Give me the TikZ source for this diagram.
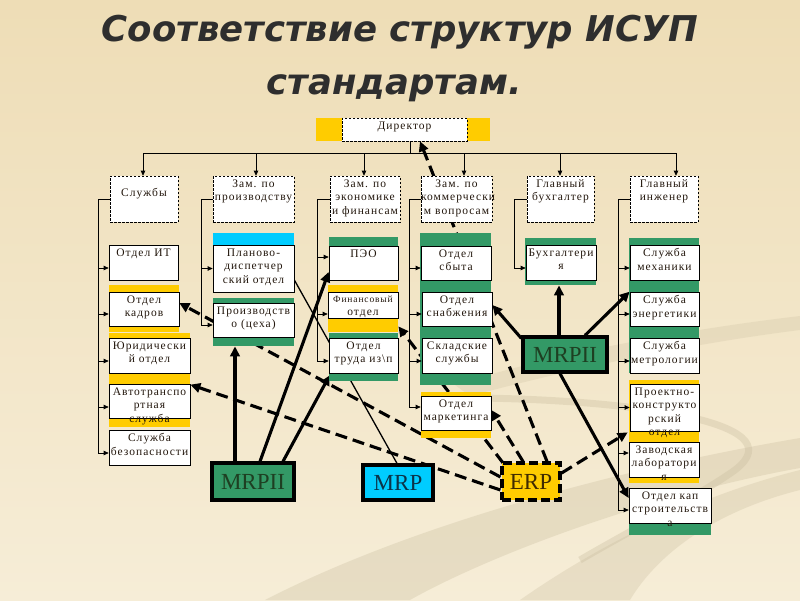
\documentclass[tikz,border=0pt]{standalone}
\usepackage{fontspec}
\setmainfont{Liberation Serif}
\newfontfamily\bxf[LetterSpace=9]{Liberation Serif}
\newfontfamily\ttlf{DejaVu Sans Bold Oblique}
\newfontfamily\sysf{Liberation Serif}
\usetikzlibrary{arrows.meta,calc}
\pgfdeclarelayer{bg}\pgfdeclarelayer{edges}
\pgfsetlayers{bg,edges,main}
\definecolor{bgA}{HTML}{EEDDB6}
\definecolor{bgB}{HTML}{F6EDD7}
\definecolor{swirl}{HTML}{C9BD9E}
\definecolor{pgreen}{HTML}{339966}
\definecolor{pyellow}{HTML}{FFCC00}
\definecolor{pcyan}{HTML}{00CCFF}
\definecolor{txt}{HTML}{22160C}
\definecolor{ttl}{HTML}{2E2E2E}
\definecolor{mrpTxt}{HTML}{1E3F22}
\definecolor{mrTxt}{HTML}{0B3349}
\definecolor{erpTxt}{HTML}{3F2A00}
\newcommand\boxfont{\bxf\fontsize{11.5}{13.5}\selectfont}
\newcommand\ubox[7][unit]{%
  \pgfmathsetmacro\bw{#5-#3}%
  \pgfmathsetmacro\bh{#6-#4}%
  \node[#1,minimum width=\bw pt,minimum height=\bh pt] (#2) at ({(#3+#5)/2},{(#4+#6)/2})
    {\parbox[c][\bh pt][t]{\bw pt}{\boxfont\centering\vspace*{3.5pt}#7}};}
\newcommand\band[5]{\fill[#1] (#2,#3) rectangle (#4,#5);}
\newcommand\feed[3]{\path ([yshift=#3pt]#2.west) coordinate (tmpf); \draw[tick] (tmpf -| #1) -- (tmpf);}
\newcommand\drop[2]{\path ([xshift=#2pt]#1.north) coordinate (tmpd); \draw[tick] (tmpd |- busL) -- (tmpd);}
\begin{document}
\begin{tikzpicture}[x=1pt,y=-1pt,
  hdr/.style={draw=black, fill=white, line width=0.6pt, dash pattern=on 2.5pt off 1.5pt, inner sep=0pt, text=txt},
  unit/.style={draw=black, fill=white, line width=0.7pt, inner sep=0pt, text=txt},
  sys/.style={draw=black, line width=3.2pt, inner sep=0pt, font=\sysf\fontsize{23}{26}\selectfont},
  conn/.style={line width=3.1pt, -{Triangle[length=10pt,width=9.5pt]}},
  dconn/.style={conn, dash pattern=on 12pt off 6pt},
  feedl/.style={line width=0.7pt},
  tick/.style={line width=0.7pt, -{Triangle[length=5pt,width=4.5pt]}},
  ttlstyle/.style={anchor=base, text=ttl, font=\ttlf\fontsize{35.5}{40}\selectfont}]
\useasboundingbox (0,0) rectangle (800,600);
\begin{pgfonlayer}{bg}
\shade[top color=bgA, bottom color=bgB] (0,0) rectangle (800,600);
\fill[swirl, opacity=0.32] (265,600) .. controls (420,520) and (640,465) .. (800,438) -- (800,468) .. controls (650,495) and (490,555) .. (410,600) -- cycle;
\fill[swirl, opacity=0.30] (520,600) .. controls (620,530) and (720,490) .. (800,470) -- (800,490) .. controls (720,510) and (660,550) .. (630,600) -- cycle;
\fill[swirl, opacity=0.25] (455,385) .. controls (550,355) and (680,330) .. (800,316) -- (800,330) .. controls (680,345) and (560,372) .. (470,396) -- cycle;
\draw[swirl, opacity=0.35, line width=7pt] (480,398) .. controls (620,400) and (800,420) .. (735,470) .. controls (700,495) and (640,525) .. (580,560);
\end{pgfonlayer}

\node[ttlstyle] (title1) at (400,41) {Соответствие структур ИСУП};
\node[ttlstyle] (title2) at (394,94) {стандартам.};

% bands
\band{pyellow}{316}{118}{342}{141}
\band{pyellow}{467}{118}{490}{141}
\band{pyellow}{109}{285}{179}{332}
\band{pyellow}{109}{333}{190}{427}
\band{pcyan}{213}{233}{294}{245}
\band{pgreen}{213}{298}{294}{346}
\band{pgreen}{329}{237}{398}{246}
\band{pyellow}{328}{285}{398}{332}
\band{pgreen}{329}{333}{398}{381}
\band{pgreen}{420}{233}{491}{385}
\band{pyellow}{421}{392}{491}{438}
\band{pgreen}{525}{238}{596}{285}
\band{pgreen}{629}{238}{699}{373}
\band{pyellow}{629}{380}{699}{483}
\band{pgreen}{629}{515}{711}{535}

% header row
\ubox[hdr]{dir}{342}{118}{467}{141}{Директор}
\ubox[hdr]{h1}{110}{176}{178}{222}{\vspace*{9pt}Службы}
\ubox[hdr]{h2}{213}{176}{294}{222}{Зам. по\\производству}
\ubox[hdr]{h3}{330}{176}{400}{222}{Зам. по\\экономике\\и финансам}
\ubox[hdr]{h4}{421}{176}{492}{222}{Зам. по\\коммерчески\\м вопросам}
\ubox[hdr]{h5}{527}{176}{594}{222}{Главный\\бухгалтер}
\ubox[hdr]{h6}{630}{176}{698}{222}{Главный\\инженер}

% units
\ubox{it}{109}{245}{178}{280}{Отдел ИТ}
\ubox{kadr}{109}{292}{179}{326}{Отдел\\кадров}
\ubox{yur}{109}{338}{190}{373}{Юридически\\й отдел}
\ubox{avto}{109}{384}{190}{418}{Автотранспо\\ртная\\служба}
\ubox{bez}{109}{430}{190}{465}{Служба\\безопасности}
\ubox{plan}{213}{245}{294}{292}{Планово-\\диспетчер\\ский отдел}
\ubox{proizv}{213}{303}{294}{337}{Производств\\о (цеха)}
\ubox{peo}{329}{246}{398}{280}{ПЭО}
\ubox{fin}{328}{292}{398}{318}{{\fontsize{9.5}{12}\selectfont Финансовый}\\отдел}
\ubox{trud}{329}{338}{398}{373}{Отдел\\труда из\textbackslash п}
\ubox{sbyt}{421}{246}{491}{280}{Отдел\\сбыта}
\ubox{snab}{422}{292}{492}{326}{Отдел\\снабжения}
\ubox{sklad}{422}{338}{492}{373}{Складские\\службы}
\ubox{mark}{421}{396}{491}{430}{Отдел\\маркетинга}
\ubox{buh}{526}{245}{596}{280}{Бухгалтери\\я}
\ubox{meh}{630}{245}{699}{280}{Служба\\механики}
\ubox{energ}{630}{292}{699}{326}{Служба\\энергетики}
\ubox{metr}{630}{338}{699}{373}{Служба\\метрологии}
\ubox{proekt}{630}{384}{699}{431}{Проектно-\\конструкто\\рский\\отдел}
\ubox{lab}{629}{442}{699}{477}{Заводская\\лаборатори\\я}
\ubox{kap}{629}{488}{711}{523}{Отдел кап\\строительств\\а}

% systems
\node[sys, fill=pgreen, text=mrpTxt, minimum width=82pt, minimum height=37pt] (mrpL) at (253,481.5) {MRPII};
\node[sys, fill=pcyan, text=mrTxt, minimum width=70pt, minimum height=35pt] (mrp) at (398,482.5) {MRP};
\node[sys, fill=pyellow, text=erpTxt, dash pattern=on 9pt off 4pt, minimum width=58pt, minimum height=37pt] (erp) at (531,481.5) {ERP};
\node[sys, fill=pgreen, text=mrpTxt, minimum width=84pt, minimum height=35pt] (mrpR) at (565,354.5) {MRPII};

% hierarchy lines
\coordinate (busL) at (143,153);
\coordinate (busR) at (676,153);
\draw[feedl] ([xshift=5.5pt]dir.south) -- ([xshift=5.5pt]dir.south |- busL);
\draw[feedl] (busL) -- (busR);
\drop{h1}{-1}
\drop{h2}{2.5}
\drop{h3}{-1}
\drop{h4}{7.5}
\drop{h5}{-0.5}
\drop{h6}{12}

\coordinate (v1) at (98,453);
\coordinate (v2) at (201,325);
\coordinate (v3) at (317,361);
\coordinate (v4) at (409,407);
\coordinate (v5) at (514,268);
\coordinate (v6) at (618,510);
\draw[feedl] (h1.west) -| (v1);
\draw[feedl] (h2.west) -| (v2);
\draw[feedl] (h3.west) -| (v3);
\draw[feedl] (h4.west) -| (v4);
\draw[feedl] (h5.west) -| (v5);
\draw[feedl] (h6.west) -| (v6);
\feed{v1}{it}{-5.5}
\feed{v1}{kadr}{-5}
\feed{v1}{yur}{-5.5}
\feed{v1}{avto}{-6}
\feed{v1}{bez}{-5.5}
\feed{v2}{plan}{0}
\feed{v2}{proizv}{-5}
\feed{v3}{peo}{6}
\feed{v3}{fin}{-9}
\feed{v3}{trud}{-5.5}
\feed{v4}{sbyt}{-5}
\feed{v4}{snab}{-5}
\feed{v4}{sklad}{-5.5}
\feed{v4}{mark}{6}
\feed{v5}{buh}{-5.5}
\feed{v6}{meh}{-5.5}
\feed{v6}{energ}{-5}
\feed{v6}{metr}{-5.5}
\feed{v6}{proekt}{0}
\feed{v6}{lab}{6.5}
\feed{v6}{kap}{-4.5}

% system connectors
\begin{pgfonlayer}{edges}
\draw[conn] ([xshift=-18pt]mrpL.north) -- ([xshift=-18.5pt,yshift=-9pt]proizv.south);
\draw[conn] ([xshift=7pt]mrpL.north) -- ([yshift=-9pt]peo.west);
\draw[conn] ([xshift=30pt]mrpL.north) -- ([xshift=1pt,yshift=-2pt]trud.south west);
\draw[line width=1.3pt] ([xshift=-1pt]mrp.north) -- ([yshift=-11.5pt]plan.east);
\draw[dconn] ([xshift=16pt]erp.north) -- ([xshift=15.5pt]dir.south);
\draw[dconn] ([xshift=-8pt]erp.north) -- ([yshift=3pt]mark.east);
\draw[dconn] ([xshift=3pt,yshift=-2pt]erp.north west) -- ([yshift=-8pt]fin.south east);
\draw[dconn] ([yshift=4.5pt]erp.west) -- ([yshift=6pt]kadr.east);
\draw[dconn] ([yshift=-8.5pt]erp.west) -- ([yshift=-1pt]avto.north east);
\draw[dconn] ([yshift=8.5pt]erp.east) -- ([xshift=-2pt,yshift=-1pt]proekt.south west);
\draw[conn] ([xshift=-6pt]mrpR.north) -- ([xshift=-2pt,yshift=-5pt]buh.south);
\draw[conn] ([xshift=20pt]mrpR.north) -- (energ.north west);
\draw[conn] ([yshift=-3pt]mrpR.north west) -- ([yshift=4pt]snab.east);
\draw[conn] ([xshift=-5pt]mrpR.south) -- ([yshift=7.5pt]kap.west);
\end{pgfonlayer}
\end{tikzpicture}
\end{document}
